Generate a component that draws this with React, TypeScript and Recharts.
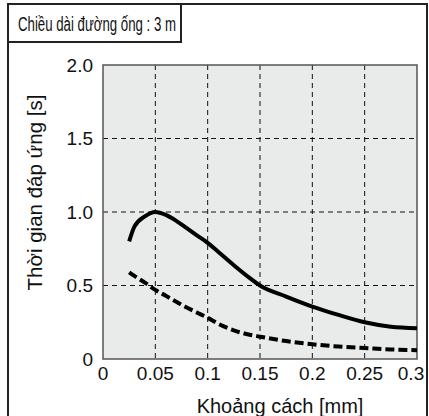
import {
  CartesianGrid,
  Line,
  LineChart,
  ReferenceArea,
  XAxis,
  YAxis,
} from "recharts";

// Thời gian đáp ứng theo khoảng cách, ống dài 3 m. Hai đường: liền và nét đứt.

const distance = [
  0.025, 0.03, 0.04, 0.05, 0.06, 0.07, 0.08, 0.09, 0.1, 0.11, 0.125, 0.14,
  0.15, 0.175, 0.2, 0.225, 0.25, 0.275, 0.3,
];
const solidSeries = [
  0.8, 0.9, 0.97, 1.0, 0.98, 0.94, 0.89, 0.84, 0.79, 0.73, 0.638, 0.552, 0.5,
  0.425, 0.357, 0.3, 0.25, 0.22, 0.21,
];
const dashedSeries = [
  0.59, 0.565, 0.52, 0.47, 0.43, 0.39, 0.35, 0.315, 0.28, 0.24, 0.195, 0.165,
  0.152, 0.122, 0.1, 0.085, 0.075, 0.065, 0.06,
];
const xTicks = [0, 0.05, 0.1, 0.15, 0.2, 0.25, 0.3];
const yTicks = [0, 0.5, 1.0, 1.5, 2.0];
const xGrid = [0.05, 0.1, 0.15, 0.2, 0.25];
const yGrid = [0.5, 1.0, 1.5];

const data = distance.map((d, i) => ({
  d,
  solid: solidSeries[i],
  dashed: dashedSeries[i],
}));

const FONT = '"Liberation Sans", Arial, sans-serif';

function XTick({ x, y, payload }: { x?: number; y?: number; payload?: { value: number } }) {
  const v = payload?.value ?? 0;
  return (
    <text
      x={(x ?? 0) + (v === 0.3 ? -6 : 0)}
      y={y}
      dy="0.71em"
      textAnchor="middle"
      fill="#111"
      fontSize={19}
      fontFamily={FONT}
    >
      {String(v)}
    </text>
  );
}

function YTick({ x, y, payload }: { x?: number; y?: number; payload?: { value: number } }) {
  const v = payload?.value ?? 0;
  return (
    <text
      x={x}
      y={y}
      dy="0.355em"
      textAnchor="end"
      fill="#111"
      fontSize={19}
      fontFamily={FONT}
    >
      {v === 0 ? "0" : v.toFixed(1)}
    </text>
  );
}

export default function App() {
  return (
    <div style={{ position: "absolute", left: 0, top: 0, width: 429, height: 416, overflow: "hidden", background: "#fff" }}>
      <div
        style={{
          position: "absolute",
          left: 7,
          top: 3,
          width: 421,
          height: 440,
          border: "2px solid #222",
          boxSizing: "border-box",
        }}
      />
      <div style={{ position: "absolute", left: 0, top: 0 }}>
        <LineChart
          width={429}
          height={416}
          data={data}
          margin={{ top: 65, right: 12, bottom: 0, left: 0 }}
        >
          <CartesianGrid
            fill="#e9eaea"
            stroke="#111"
            strokeDasharray="5 4"
            horizontalValues={yGrid}
            verticalValues={xGrid}
          />
          <XAxis
            dataKey="d"
            type="number"
            domain={[0, 0.3]}
            ticks={xTicks}
            interval={0}
            height={57}
            axisLine={false}
            tickLine={false}
            tick={<XTick />}
            label={{
              content: () => (
                <text
                  x={280}
                  y={413}
                  textAnchor="middle"
                  fill="#111"
                  fontSize={20}
                  fontFamily={FONT}
                >
                  Khoảng cách [mm]
                </text>
              ),
            }}
          />
          <YAxis
            type="number"
            domain={[0, 2]}
            ticks={yTicks}
            interval={0}
            width={103}
            axisLine={false}
            tickLine={false}
            tickMargin={4}
            tick={<YTick />}
            label={{
              content: () => (
                <text
                  x={0}
                  y={0}
                  transform="translate(42 192.5) rotate(-90)"
                  textAnchor="middle"
                  fill="#111"
                  fontSize={20.5}
                  fontFamily={FONT}
                >
                  Thời gian đáp ứng [s]
                </text>
              ),
            }}
          />
          <ReferenceArea
            x1={0}
            x2={0.3}
            y1={0}
            y2={2}
            fill="none"
            stroke="#555"
            strokeWidth={1.5}
            ifOverflow="visible"
          />
          <Line
            dataKey="dashed"
            type="monotone"
            stroke="#000"
            strokeWidth={4}
            strokeDasharray="9 4"
            dot={false}
            isAnimationActive={false}
          />
          <Line
            dataKey="solid"
            type="monotone"
            stroke="#000"
            strokeWidth={4}
            dot={false}
            isAnimationActive={false}
          />
        </LineChart>
      </div>
      <svg
        width={429}
        height={60}
        style={{ position: "absolute", left: 0, top: 0 }}
      >
        <rect x={8} y={4} width={173} height={38} fill="#fff" stroke="#222" strokeWidth={2} />
        <text
          x={97}
          y={30.5}
          textAnchor="middle"
          textLength={158}
          lengthAdjust="spacingAndGlyphs"
          fill="#111"
          fontSize={19.5}
          fontFamily={FONT}
        >
          Chiều dài đường ống : 3 m
        </text>
      </svg>
    </div>
  );
}
